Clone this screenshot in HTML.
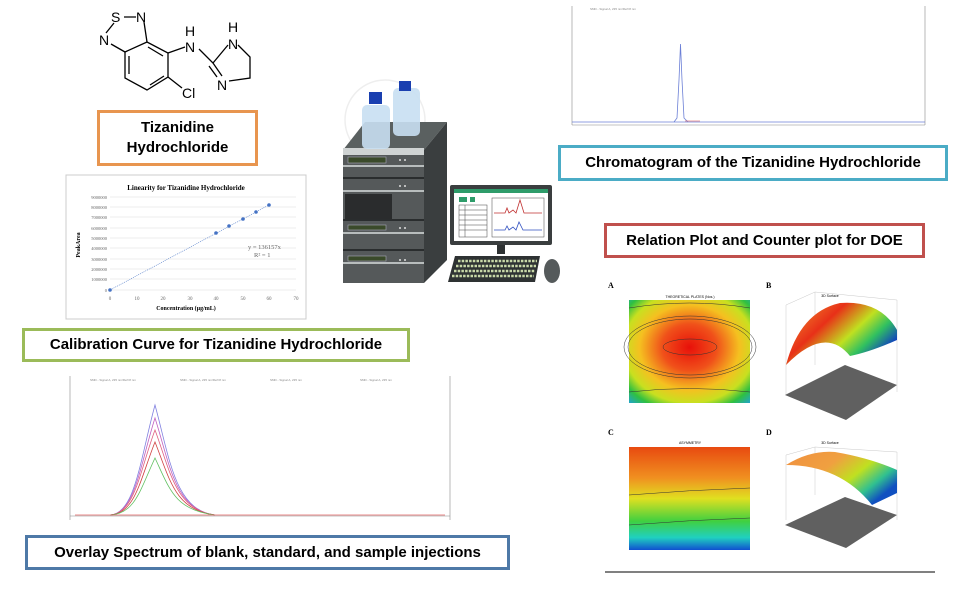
<!DOCTYPE html>
<html><head><meta charset="utf-8"><style>
body{margin:0;background:#fff;width:960px;height:599px;overflow:hidden;position:relative;font-family:"Liberation Sans",sans-serif}
.box{position:absolute;background:#fff;font-weight:bold;color:#000;text-align:center;box-sizing:border-box;font-size:15px;line-height:20px}
svg{position:absolute;left:0;top:0}
</style></head><body>
<svg width="960" height="599" viewBox="0 0 960 599" font-family="Liberation Sans">
<defs>
<radialGradient id="rA" cx="0.5" cy="0.46" r="0.75" fx="0.5" fy="0.46">
<stop offset="0" stop-color="#e8100a"/><stop offset="0.3" stop-color="#f0501a"/><stop offset="0.55" stop-color="#f5c020"/><stop offset="0.72" stop-color="#c8e020"/><stop offset="0.85" stop-color="#30c040"/><stop offset="1" stop-color="#20a0e0"/></radialGradient>
<linearGradient id="gC" x1="0" y1="0" x2="0" y2="1">
<stop offset="0" stop-color="#e84a10"/><stop offset="0.3" stop-color="#f09020"/><stop offset="0.5" stop-color="#e0e020"/><stop offset="0.72" stop-color="#40d040"/><stop offset="0.88" stop-color="#20d0c0"/><stop offset="1" stop-color="#1050d0"/></linearGradient>
<linearGradient id="gB" x1="0" y1="0" x2="1" y2="0.6">
<stop offset="0" stop-color="#f0a030"/><stop offset="0.4" stop-color="#e83018"/><stop offset="0.65" stop-color="#c0e020"/><stop offset="0.82" stop-color="#30c060"/><stop offset="1" stop-color="#1040c0"/></linearGradient>
<linearGradient id="gD" x1="0" y1="0" x2="1" y2="0.6">
<stop offset="0" stop-color="#f09040"/><stop offset="0.4" stop-color="#f0a040"/><stop offset="0.65" stop-color="#c0e020"/><stop offset="0.85" stop-color="#30c090"/><stop offset="1" stop-color="#1050c0"/></linearGradient>
</defs>

<!-- molecule -->
<g stroke="#000" stroke-width="1.3" fill="none">
<path d="M125 52 L147 42 L168 53 L168 77 L147 90 L125 78 Z"/>
<path d="M129 74 L129 56 M150 85 L164 76 M148 47 L163 56"/>
<path d="M125 52 L111 44 M147 42 L144 22 M124 17 L136 17 M114 23 L106 33"/>
<path d="M168 53 L185 47 M199 49 L213 63 L222 76 M213 63 L228 45 M209 66 L217 77 M238 45 L250 57 L250 78 L229 81"/>
<path d="M168 77 L182 88"/>
</g>
<g font-size="14" fill="#000">
<text x="111" y="22">S</text><text x="136" y="22">N</text><text x="99" y="45">N</text>
<text x="185" y="52">N</text><text x="185" y="36">H</text><text x="228" y="49">N</text><text x="228" y="32">H</text>
<text x="217" y="90">N</text><text x="182" y="98">Cl</text></g>

<!-- linearity chart -->
<rect x="66" y="175" width="240" height="144" fill="#fff" stroke="#ccc"/>
<text x="186" y="190" font-size="7" font-weight="bold" text-anchor="middle" font-family="Liberation Serif">Linearity for Tizanidine Hydrochloride</text>
<g stroke="#ddd" stroke-width="0.6">
<path d="M110 197H296M110 207H296M110 217H296M110 228H296M110 238H296M110 248H296M110 259H296M110 269H296M110 279H296M110 290H296"/></g>
<g font-size="4.5" fill="#666" text-anchor="end" font-family="Liberation Serif">
<text x="107" y="199">9000000</text><text x="107" y="209">8000000</text><text x="107" y="219">7000000</text><text x="107" y="230">6000000</text><text x="107" y="240">5000000</text><text x="107" y="250">4000000</text><text x="107" y="261">3000000</text><text x="107" y="271">2000000</text><text x="107" y="281">1000000</text><text x="107" y="292">0</text></g>
<g font-size="5" fill="#666" text-anchor="middle" font-family="Liberation Serif">
<text x="110" y="300">0</text><text x="137" y="300">10</text><text x="163" y="300">20</text><text x="190" y="300">30</text><text x="216" y="300">40</text><text x="243" y="300">50</text><text x="269" y="300">60</text><text x="296" y="300">70</text></g>
<text x="186" y="310" font-size="6" font-weight="bold" text-anchor="middle" font-family="Liberation Serif">Concentration (µg/mL)</text>
<text x="80" y="245" font-size="6" font-weight="bold" text-anchor="middle" transform="rotate(-90 80 245)" font-family="Liberation Serif">PeakArea</text>
<line x1="110" y1="290" x2="269" y2="205" stroke="#4472c4" stroke-width="0.6" stroke-dasharray="1,1"/>
<g fill="#4472c4"><circle cx="110" cy="290" r="1.8"/><circle cx="216" cy="233" r="1.8"/><circle cx="229" cy="226" r="1.8"/><circle cx="243" cy="219" r="1.8"/><circle cx="256" cy="212" r="1.8"/><circle cx="269" cy="205" r="1.8"/></g>
<text x="248" y="249" font-size="6.5" fill="#666" font-family="Liberation Serif">y = 136157x</text>
<text x="254" y="257" font-size="6.5" fill="#666" font-family="Liberation Serif">R² = 1</text>

<!-- HPLC instrument -->
<circle cx="385" cy="120" r="40" fill="none" stroke="#eee" stroke-width="1.5"/>
<polygon points="343,150 365,122 447,122 424,150" fill="#5a6060"/>
<polygon points="343,148 424,148 424,155 343,155" fill="#cfd3d3"/>
<rect x="343" y="155" width="81" height="128" fill="#55595a"/>
<polygon points="424,150 447,122 447,260 424,283" fill="#3a3e3f"/>
<g stroke="#2a2d2e" stroke-width="2"><line x1="343" y1="178" x2="424" y2="178"/><line x1="343" y1="220" x2="424" y2="220"/><line x1="343" y1="250" x2="424" y2="250"/></g>
<g fill="#b8bdbd"><rect x="343" y="165" width="81" height="2"/><rect x="343" y="190" width="81" height="2"/><rect x="343" y="232" width="81" height="2"/><rect x="343" y="262" width="81" height="2"/></g>
<rect x="348" y="157" width="38" height="6" fill="#3a4a2a" stroke="#aab" stroke-width="0.6"/>
<rect x="348" y="225" width="38" height="5" fill="#3a4a2a" stroke="#aab" stroke-width="0.6"/>
<rect x="348" y="256" width="38" height="5" fill="#3a4a2a" stroke="#aab" stroke-width="0.6"/>
<rect x="345" y="194" width="47" height="25" fill="#2a2c2d"/>
<g fill="#ddd"><circle cx="400" cy="160" r="1"/><circle cx="405" cy="160" r="1"/><circle cx="400" cy="186" r="1"/><circle cx="405" cy="186" r="1"/><circle cx="400" cy="228" r="1"/><circle cx="405" cy="228" r="1"/><circle cx="400" cy="260" r="1"/><circle cx="405" cy="260" r="1"/></g>
<rect x="362" y="105" width="28" height="44" rx="5" fill="#c8dff2" opacity="0.9"/>
<rect x="369" y="92" width="13" height="12" fill="#1a3fb0"/>
<rect x="393" y="88" width="27" height="48" rx="5" fill="#c8dff2" opacity="0.9"/>
<rect x="399" y="81" width="12" height="10" fill="#1a3fb0"/>
<rect x="450" y="185" width="102" height="60" rx="2" fill="#3a3e3f"/>
<rect x="454" y="189" width="94" height="52" fill="#fff"/>
<rect x="454" y="189" width="94" height="4" fill="#2e9c6a"/>
<rect x="459" y="197" width="8" height="5" fill="#2e9c6a"/><rect x="470" y="197" width="5" height="5" fill="#2e9c6a"/>
<g stroke="#444" stroke-width="0.5" fill="none"><rect x="459" y="205" width="28" height="32"/><path d="M459 210H487M459 215H487M459 220H487M459 225H487M459 230H487M465 205V237"/><rect x="492" y="198" width="52" height="39"/></g>
<path d="M494 213 L505 213 L507 208 L509 213 L513 210 L516 213 L520 200 L524 213 L542 213" stroke="#c03030" fill="none" stroke-width="0.8"/>
<path d="M494 230 L505 230 L507 226 L509 230 L513 227 L516 230 L519 222 L523 230 L542 230" stroke="#3050c0" fill="none" stroke-width="0.8"/>
<rect x="497" y="245" width="8" height="9" fill="#2e3233"/>
<polygon points="455,256 540,256 535,282 448,282" fill="#2e3233"/>
<g stroke="#c8d8a8" stroke-width="2.5" stroke-dasharray="2.5,1.2"><path d="M458 261H537M456 266H536M454 271H535M452 276H534"/></g>
<ellipse cx="552" cy="271" rx="8" ry="12" fill="#555a5b"/>

<!-- chromatogram -->
<g font-size="3" fill="#888"><text x="590" y="10">SMD - Signal A, 235 nm/Ref=8 nm</text></g>
<line x1="572" y1="6" x2="572" y2="125" stroke="#888" stroke-width="0.6"/>
<line x1="925" y1="6" x2="925" y2="125" stroke="#888" stroke-width="0.6"/>
<line x1="572" y1="125" x2="925" y2="125" stroke="#888" stroke-width="0.6"/>
<line x1="572" y1="122" x2="925" y2="122" stroke="#6b7fd6" stroke-width="0.7"/>
<path d="M674 122 L677 118 L679 80 L680.5 44 L682 80 L684 118 L688 122" stroke="#6b7fd6" fill="none" stroke-width="0.8"/>
<line x1="685" y1="121" x2="700" y2="121" stroke="#e06060" stroke-width="0.6"/>

<!-- overlay spectrum -->
<g font-size="3" fill="#888"><text x="90" y="381">SMD - Signal A, 235 nm/Ref=8 nm</text><text x="180" y="381">SMD - Signal A, 235 nm/Ref=8 nm</text><text x="270" y="381">SMD - Signal A, 235 nm</text><text x="360" y="381">SMD - Signal A, 235 nm</text></g>
<line x1="70" y1="376" x2="70" y2="520" stroke="#888" stroke-width="0.6"/>
<line x1="450" y1="376" x2="450" y2="520" stroke="#888" stroke-width="0.6"/>
<line x1="70" y1="516" x2="450" y2="516" stroke="#888" stroke-width="0.6"/>
<g fill="none" stroke-width="0.8">
<path d="M110 515 C135 514 140 460 155 405 C170 460 175 510 215 515" stroke="#8080e0"/>
<path d="M110 515 C135 514 140 465 155 418 C170 465 175 510 215 515" stroke="#c060c0"/>
<path d="M110 515 C135 514 140 470 155 430 C170 470 175 510 215 515" stroke="#e06080"/>
<path d="M110 515 C135 514 140 480 155 442 C170 480 175 510 215 515" stroke="#d04040"/>
<path d="M110 515 C135 514 140 490 155 458 C170 490 175 510 215 515" stroke="#60c060"/>
<path d="M75 515 H445" stroke="#e06060"/></g>

<!-- DOE -->
<g font-family="Liberation Serif" font-weight="bold" font-size="8"><text x="608" y="288">A</text><text x="766" y="288">B</text><text x="608" y="435">C</text><text x="766" y="435">D</text></g>
<rect x="629" y="300" width="121" height="103" fill="url(#rA)"/>
<g fill="none" stroke="#333" stroke-width="0.5"><ellipse cx="690" cy="347" rx="27" ry="8"/><ellipse cx="690" cy="347" rx="62" ry="28"/><ellipse cx="690" cy="347" rx="66" ry="31"/><path d="M629 308 Q690 298 750 308 M629 392 Q690 385 750 392"/></g>
<text x="690" y="298" font-size="3.5" text-anchor="middle">THEORETICAL PLATES (Nos.)</text>
<rect x="629" y="447" width="121" height="103" fill="url(#gC)"/>
<g fill="none" stroke="#333" stroke-width="0.5"><path d="M629 495 Q690 490 750 488 M629 525 Q690 520 750 518"/></g>
<text x="690" y="444" font-size="3.5" text-anchor="middle">ASYMMETRY</text>
<text x="830" y="297" font-size="3.5" text-anchor="middle">3D Surface</text>
<text x="830" y="444" font-size="3.5" text-anchor="middle">3D Surface</text>
<g stroke="#bbb" stroke-width="0.4" fill="none"><path d="M786 305V395M786 305L815 292L897 300V392M815 292V365M786 455V520M786 455L815 447L897 452V520M815 447V495"/></g>
<polygon points="785,395 845,365 897,385 846,420" fill="#606060"/>
<path d="M786 365 Q800 312 840 303 Q880 300 897 330 L897 340 Q870 352 850 356 Q825 325 786 365Z" fill="url(#gB)"/>
<polygon points="785,525 845,497 897,515 846,548" fill="#606060"/>
<path d="M786 465 Q810 450 835 452 Q870 458 897 470 L897 493 L872 505 Q840 465 786 465Z" fill="url(#gD)"/>
<line x1="605" y1="572" x2="935" y2="572" stroke="#000" stroke-width="1"/>
</svg>

<div class="box" style="left:97px;top:110px;width:161px;height:56px;border:3px solid #e8954f;padding-top:5px">Tizanidine<br>Hydrochloride</div>
<div class="box" style="left:22px;top:328px;width:388px;height:34px;border:3px solid #9bbb59;line-height:28px">Calibration Curve for Tizanidine Hydrochloride</div>
<div class="box" style="left:25px;top:535px;width:485px;height:35px;border:3px solid #4e79a7;line-height:29px">Overlay Spectrum of blank, standard, and sample injections</div>
<div class="box" style="left:558px;top:145px;width:390px;height:36px;border:3px solid #4bacc6;line-height:30px">Chromatogram of the Tizanidine Hydrochloride</div>
<div class="box" style="left:604px;top:223px;width:321px;height:35px;border:3px solid #c0504d;line-height:29px">Relation Plot and Counter plot for DOE</div>
</body></html>
